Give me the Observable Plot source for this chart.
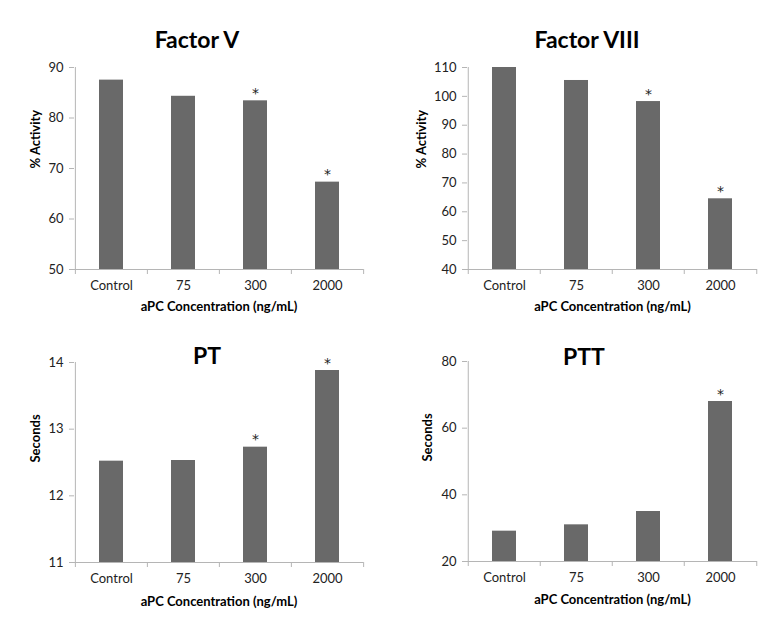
<!DOCTYPE html>
<html><head><meta charset="utf-8">
<script src="https://cdn.jsdelivr.net/npm/d3@7"></script>
<script src="https://cdn.jsdelivr.net/npm/@observablehq/plot@0.6"></script>
<style>
body{margin:0;background:#fff;font-family:Lato,sans-serif;}
#wrap{position:relative;width:781px;height:624px;overflow:hidden;background:#fff;}
.panel{position:absolute;}
.title{position:absolute;font-family:Lato,sans-serif;font-weight:700;font-size:23px;color:#000;transform:translate(-50%,-50%);white-space:nowrap;line-height:1;}
</style></head><body><div id="wrap"></div>
<script>
const categories = ["Control", "75", "300", "2000"];
const factorV = [87.5, 84.3, 83.4, 67.3];
const factorVSig = [false, false, true, true];
const factorVTicks = [50, 60, 70, 80, 90];
const factorVIII = [110.0, 105.5, 98.2, 64.5];
const factorVIIISig = [false, false, true, true];
const factorVIIITicks = [40, 50, 60, 70, 80, 90, 100, 110];
const ptSeconds = [12.52, 12.53, 12.73, 13.88];
const ptSig = [false, false, true, true];
const ptTicks = [11, 12, 13, 14];
const pttSeconds = [29.1, 31.0, 35.0, 68.0];
const pttSig = [false, false, false, true];
const pttTicks = [20, 40, 60, 80];
const xLabel = "aPC Concentration (ng/mL)";

const panels = [
  {title: "Factor V", yLabel: "% Activity", values: factorV, sig: factorVSig, ticks: factorVTicks,
   left: 0, top: 0, width: 390, height: 320, m: {top: 67, right: 27, bottom: 51, left: 74},
   titleX: 197, titleY: 39, yLabelDx: -39, xLabelDy: 41},
  {title: "Factor VIII", yLabel: "% Activity", values: factorVIII, sig: factorVIIISig, ticks: factorVIIITicks,
   left: 390, top: 0, width: 391, height: 320, m: {top: 67, right: 24, bottom: 51, left: 77},
   titleX: 197, titleY: 39, yLabelDx: -45.5, xLabelDy: 41},
  {title: "PT", yLabel: "Seconds", values: ptSeconds, sig: ptSig, ticks: ptTicks,
   left: 0, top: 320, width: 390, height: 304, m: {top: 42, right: 27, bottom: 62, left: 74},
   titleX: 207, titleY: 35, yLabelDx: -39, xLabelDy: 43},
  {title: "PTT", yLabel: "Seconds", values: pttSeconds, sig: pttSig, ticks: pttTicks,
   left: 390, top: 320, width: 391, height: 304, m: {top: 41, right: 24, bottom: 63, left: 77},
   titleX: 194, titleY: 36, yLabelDx: -39.5, xLabelDy: 42.5}
];

const axisColor = "#b5b5b5";
const barColor = "#696969";
const wrap = document.getElementById("wrap");

for (const p of panels) {
  const rows = categories.map((c, i) => ({cat: c, value: p.values[i], sig: p.sig[i]}));
  const ymin = p.ticks[0], ymax = p.ticks[p.ticks.length - 1];
  const step = (p.width - p.m.left - p.m.right) / categories.length;
  const chart = Plot.plot({
    width: p.width, height: p.height,
    marginTop: p.m.top, marginRight: p.m.right, marginBottom: p.m.bottom, marginLeft: p.m.left,
    style: {fontFamily: "Lato, sans-serif", fontSize: "13px", color: "#222", background: "white", overflow: "visible"},
    x: {domain: categories, paddingInner: 0.67, paddingOuter: 0.335, align: 0.5},
    y: {domain: [ymin, ymax], nice: false},
    marks: [
      Plot.barY(rows, {x: "cat", y1: ymin, y2: "value", fill: barColor}),
      Plot.ruleY([ymin], {stroke: axisColor}),
      Plot.ruleX([categories[0]], {x: d => d, dx: -step / 2, stroke: axisColor, insetBottom: -1}),
      Plot.ruleX(categories, {x: d => d, dx: -step / 2, y1: ymin, y2: ymin, insetBottom: -5, stroke: axisColor}),
      Plot.ruleX([categories[categories.length - 1]], {x: d => d, dx: step / 2, y1: ymin, y2: ymin, insetBottom: -5, stroke: axisColor}),
      Plot.axisY({ticks: p.ticks, tickFormat: d3.format("d"), tickSize: 5, tickPadding: 6, stroke: axisColor, fill: "#222", label: null, fontSize: 13}),
      Plot.axisX({tickSize: 0, tickPadding: 11, fill: "#222", label: null, fontSize: 13}),
      Plot.text(rows.filter(d => d.sig), {x: "cat", y: "value", text: () => "*", dy: -3, lineAnchor: "bottom", fontSize: 14, fontFamily: "DejaVu Sans", fill: "#222"}),
      Plot.text([p.yLabel], {text: d => d, frameAnchor: "left", rotate: -90, dx: p.yLabelDx, fontWeight: "bold", fontSize: 13, fill: "#000"}),
      Plot.text([xLabel], {text: d => d, frameAnchor: "bottom", dy: p.xLabelDy, fontWeight: "bold", fontSize: 13, fill: "#000"})
    ]
  });
  const div = document.createElement("div");
  div.className = "panel";
  div.style.left = p.left + "px";
  div.style.top = p.top + "px";
  div.appendChild(chart);
  wrap.appendChild(div);
  const t = document.createElement("div");
  t.className = "title";
  t.textContent = p.title;
  t.style.left = (p.left + p.titleX) + "px";
  t.style.top = (p.top + p.titleY) + "px";
  wrap.appendChild(t);
}
</script></body></html>
